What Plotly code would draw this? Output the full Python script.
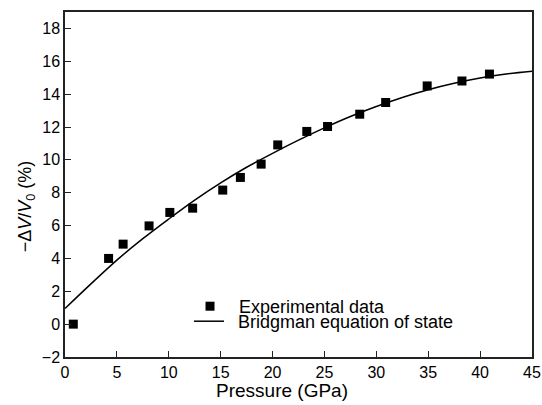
import plotly.graph_objects as go

exp_pressure = [0.8, 4.2, 5.6, 8.1, 10.1, 12.3, 15.2, 16.9, 18.9, 20.5, 23.3, 25.3, 28.4, 30.9, 34.9, 38.25, 40.9]
exp_dv = [0.0, 4.0, 4.87, 5.98, 6.8, 7.06, 8.16, 8.93, 9.74, 10.91, 11.73, 12.03, 12.78, 13.49, 14.5, 14.8, 15.22]

# Bridgman equation of state curve
eos_pressure = [0, 2.5, 5, 7.5, 10, 12.5, 15, 17.5, 20, 22.5, 25, 27.5, 30, 32.5, 35, 37.5, 40, 42.5, 45]
eos_dv = [0.95, 2.45, 3.9, 5.2, 6.4, 7.55, 8.6, 9.55, 10.4, 11.2, 11.95, 12.64, 13.25, 13.8, 14.27, 14.66, 14.98, 15.23, 15.4]

x_ticks = [0, 5, 10, 15, 20, 25, 30, 35, 40, 45]
y_ticks = [-2, 0, 2, 4, 6, 8, 10, 12, 14, 16, 18]

FONT = "Liberation Sans, Arial, Helvetica, sans-serif"

fig = go.Figure()
fig.add_trace(go.Scatter(
    x=exp_pressure, y=exp_dv, mode="markers", name="\u2002Experimental data",
    marker=dict(symbol="square", size=9, color="black"), legend="legend",
))
fig.add_trace(go.Scatter(
    x=eos_pressure, y=eos_dv, mode="lines", name="\u2002Bridgman equation of state",
    line=dict(color="black", width=1.5, shape="spline"), legend="legend2",
))

axis_common = dict(
    showline=True, linecolor="#222", linewidth=1.5, mirror=True,
    ticks="inside", ticklen=6, tickwidth=1.2, tickcolor="#222",
    showgrid=False, zeroline=False, automargin=False,
    tickfont=dict(family=FONT, size=16, color="black"),
)

legend_common = dict(
    xanchor="left", yanchor="top", bgcolor="rgba(0,0,0,0)",
    font=dict(family=FONT, size=18, color="black"),
)

fig.update_layout(
    width=542, height=405,
    margin=dict(l=65, r=10, t=12, b=48, autoexpand=False),
    paper_bgcolor="white", plot_bgcolor="white",
    font=dict(family=FONT, size=16, color="black"),
    showlegend=True,
    legend=dict(x=0.2677, y=0.200, **legend_common),
    legend2=dict(x=0.2655, y=0.1565, **legend_common),
    xaxis=dict(
        range=[0, 45], tickvals=x_ticks,
        ticktext=[str(v) for v in x_ticks],
        **axis_common,
    ),
    yaxis=dict(
        range=[-2, 19], tickvals=y_ticks,
        ticktext=[("\u2212" + str(-v)) if v < 0 else str(v) for v in y_ticks],
        **axis_common,
    ),
    annotations=[
        dict(text="Pressure (GPa)", xref="paper", yref="paper",
             x=0.4647, y=-0.0957, xanchor="center", yanchor="middle",
             showarrow=False, font=dict(family=FONT, size=19, color="black")),
        dict(text="\u2212\u0394<i>V</i>/<i>V</i><sub>0</sub> (%)", xref="paper", yref="paper",
             x=-0.0835, y=0.437, xanchor="center", yanchor="middle", textangle=-90,
             showarrow=False, font=dict(family=FONT, size=18, color="black")),
    ],
)

fig.write_html(
    "out.html",
    config={"displayModeBar": False},
    post_script="document.body.style.margin='0';",
)
